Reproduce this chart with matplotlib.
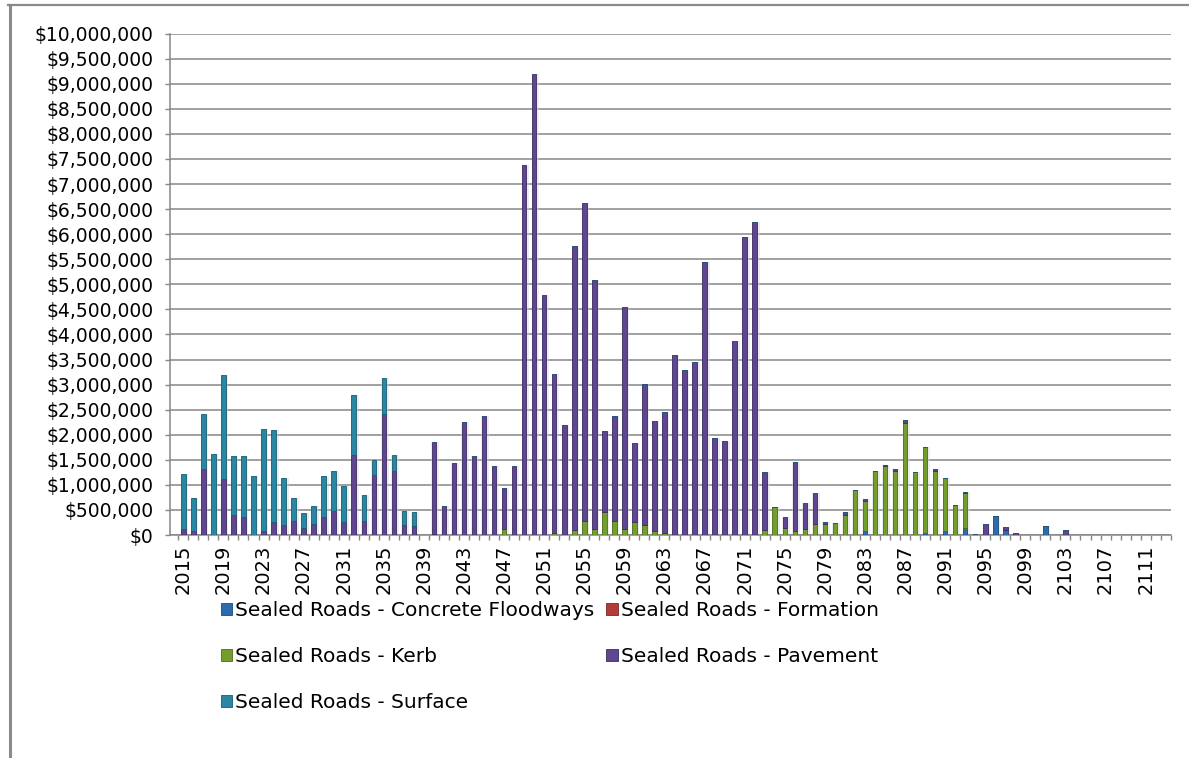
import matplotlib
matplotlib.use("Agg")
import matplotlib.pyplot as plt
import numpy as np
from matplotlib.patches import Patch
from matplotlib.lines import Line2D
from matplotlib.ticker import FuncFormatter, MultipleLocator, FixedLocator

# Years 2015 .. 2113
years = list(range(2015, 2114))

# Annual renewal cost by component, in thousands of dollars
concrete_floodways = [0] * 99
formation = [0] * 99
kerb = [0] * 99
pavement = [0] * 99
surface = [0] * 99

surface_vals = {
    2015: 1100, 2016: 660, 2017: 1090, 2018: 1620, 2019: 2070, 2020: 1170,
    2021: 1220, 2022: 1180, 2023: 2040, 2024: 1840, 2025: 930, 2026: 450,
    2027: 290, 2028: 360, 2029: 810, 2030: 810, 2031: 720, 2032: 1200,
    2033: 530, 2034: 290, 2035: 710, 2036: 310, 2037: 270, 2038: 270,
}
pavement_vals = {
    2015: 110, 2016: 70, 2017: 1320, 2019: 1120, 2020: 400, 2021: 350,
    2023: 70, 2024: 250, 2025: 200, 2026: 280, 2027: 140, 2028: 220,
    2029: 360, 2030: 470, 2031: 250, 2032: 1600, 2033: 270, 2034: 1200,
    2035: 2420, 2036: 1280, 2037: 200, 2038: 180, 2040: 1830, 2041: 580,
    2042: 1445, 2043: 2260, 2044: 1580, 2045: 2380, 2046: 1385, 2047: 835,
    2048: 1385, 2049: 7385, 2050: 9200, 2051: 4785, 2052: 3175, 2053: 2200,
    2054: 5670, 2055: 6360, 2056: 4970, 2057: 1620, 2058: 2110, 2059: 4445,
    2060: 1590, 2061: 2805, 2062: 2210, 2063: 2415, 2064: 3585, 2065: 3285,
    2066: 3455, 2067: 5450, 2068: 1940, 2069: 1880, 2070: 3860, 2071: 5935,
    2072: 6235, 2073: 1150, 2075: 235, 2076: 1395, 2077: 535, 2078: 625,
    2079: 45, 2081: 50, 2083: 40, 2085: 20, 2086: 35, 2087: 65, 2090: 25,
    2093: 30, 2094: 25, 2095: 225, 2097: 65, 2098: 45, 2103: 100,
}
kerb_vals = {
    2040: 20, 2047: 110, 2052: 30, 2054: 100, 2055: 270, 2056: 120,
    2057: 450, 2058: 270, 2059: 110, 2060: 250, 2061: 200, 2062: 70,
    2063: 30, 2073: 100, 2074: 550, 2075: 130, 2076: 70, 2077: 110,
    2078: 220, 2079: 220, 2080: 245, 2081: 400, 2082: 900, 2083: 600,
    2084: 1285, 2085: 1375, 2086: 1275, 2087: 2230, 2088: 1250, 2089: 1735,
    2090: 1285, 2091: 1065, 2092: 590, 2093: 695,
}
concrete_vals = {
    2083: 80, 2089: 30, 2091: 80, 2093: 140, 2096: 385, 2097: 90, 2101: 170,
}

for src, dst in ((surface_vals, surface), (pavement_vals, pavement),
                 (kerb_vals, kerb), (concrete_vals, concrete_floodways)):
    for yr, v in src.items():
        dst[yr - 2015] = v

series_names = [
    "Sealed Roads - Concrete Floodways",
    "Sealed Roads - Formation",
    "Sealed Roads - Kerb",
    "Sealed Roads - Pavement",
    "Sealed Roads - Surface",
]
series_values = [concrete_floodways, formation, kerb, pavement, surface]
face_colors = ["#2C6BAE", "#B23C3A", "#739E2E", "#5E4690", "#2A87A3"]
edge_colors = ["#1B4A7C", "#7E2524", "#4C6C1A", "#3C2A63", "#175E73"]

fig = plt.figure(figsize=(11.89, 7.58), dpi=100)
ax = fig.add_axes([170 / 1189, 1 - 535 / 758, 1000.7 / 1189, (535 - 33.6) / 758])

x = np.arange(len(years))
width = 0.45
totals = np.zeros(len(years))
for vals in series_values:
    totals += np.array(vals, dtype=float) * 1000

# soft drop shadow behind each column
ax.bar(x + 0.12, totals, width=0.75, color="#d8d8d8", alpha=0.45,
       linewidth=0, zorder=2)

bottom = np.zeros(len(years))
for vals, fc, ec in zip(series_values, face_colors, edge_colors):
    v = np.array(vals, dtype=float) * 1000
    ax.bar(x, v, width=width, bottom=bottom, color=fc, edgecolor=ec,
           linewidth=0.6, zorder=3)
    bottom += v

ax.set_xlim(-1.33, 98.5)
ax.set_ylim(0, 10_000_000)

grid_c = "#868686"
ax.yaxis.set_major_locator(MultipleLocator(500_000))
ax.yaxis.set_major_formatter(FuncFormatter(lambda v, p: "${:,.0f}".format(v)))
ax.grid(axis="y", color=grid_c, linewidth=1.1, zorder=1)
ax.set_axisbelow(True)

ax.set_xticks(x[::4])
ax.set_xticklabels([str(y) for y in years[::4]], rotation=90)
ax.xaxis.set_minor_locator(FixedLocator(np.arange(-0.5, 99, 1.0)))

for s in ("top", "right"):
    ax.spines[s].set_visible(False)
for s in ("left", "bottom"):
    ax.spines[s].set_color(grid_c)
    ax.spines[s].set_linewidth(1.1)

ax.tick_params(axis="y", direction="out", length=3.6, width=1.0, color=grid_c,
               pad=8.5, labelsize=13.5, labelcolor="black")
ax.tick_params(axis="x", which="major", length=0, pad=7, labelsize=14)
ax.tick_params(axis="x", which="minor", direction="out", length=3.6,
               width=1.0, color=grid_c)

# legend, filled column-wise in two columns
order = [0, 2, 4, 1, 3]
handles = [Patch(facecolor=face_colors[i], edgecolor=edge_colors[i],
                 linewidth=0.6) for i in order]
labels = [series_names[i] for i in order]
fig.legend(handles, labels, ncol=2, loc="upper left",
           bbox_to_anchor=(221 / 1189, 1 - 601 / 758), frameon=False,
           fontsize=14.5, handlelength=0.55, handleheight=0.55,
           handletextpad=0.15, columnspacing=0.6, labelspacing=1.34,
           borderpad=0, borderaxespad=0)

# chart-area border (left and top edges)
fig.add_artist(Line2D([9.5 / 1189, 9.5 / 1189], [0, 1 - 5 / 758],
                      transform=fig.transFigure, color="#8a8a8a", linewidth=2.2))
fig.add_artist(Line2D([8 / 1189, 1], [1 - 5 / 758, 1 - 5 / 758],
                      transform=fig.transFigure, color="#8a8a8a", linewidth=1.6))

fig.savefig("out.png", dpi=100)
